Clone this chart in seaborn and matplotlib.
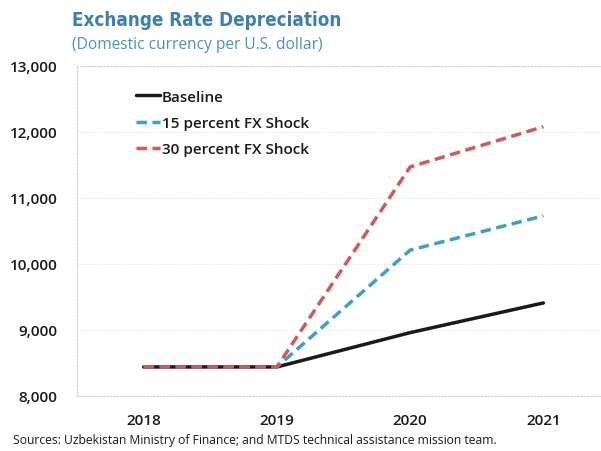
import matplotlib
matplotlib.use("Agg")
import matplotlib.pyplot as plt
import seaborn as sns
import pandas as pd

years = ["2018", "2019", "2020", "2021"]
baseline = [8440, 8440, 8960, 9410]
shock15 = [8440, 8440, 10210, 10730]
shock30 = [8440, 8440, 11470, 12080]
series_names = ["Baseline", "15 percent FX Shock", "30 percent FX Shock"]
yticks = [8000, 9000, 10000, 11000, 12000, 13000]

rows = []
for name, vals in zip(series_names, [baseline, shock15, shock30]):
    for i, (y, v) in enumerate(zip(years, vals)):
        rows.append({"idx": i, "year": y, "value": v, "series": name})
df = pd.DataFrame(rows)

sns.set_theme(style="white")
plt.rcParams['font.family'] = ['Open Sans', 'DejaVu Sans']

fig = plt.figure(figsize=(6.01, 4.52), dpi=100)
ax = fig.add_axes([77/601, 1-397/452, 533/601, 330/452])

palette = {"Baseline": "#1a1a1a", "15 percent FX Shock": "#3d9fcc", "30 percent FX Shock": "#d05a5a"}
dashes = {"Baseline": "", "15 percent FX Shock": (3, 1.6), "30 percent FX Shock": (3, 1.6)}
sns.lineplot(data=df, x="idx", y="value", hue="series", style="series",
             palette=palette, dashes=dashes, linewidth=2.5, ax=ax,
             hue_order=series_names, style_order=series_names)

ax.set_xlim(-0.5, 3.5)
ax.set_ylim(8000, 13000)
ax.set_xticks(range(len(years)))
ax.set_xticklabels(years)
ax.set_yticks(yticks)
ax.set_yticklabels([f"{t:,}" for t in yticks])
ax.tick_params(axis='both', length=0, labelsize=11, colors="#1a1a1a")
ax.tick_params(axis='x', pad=12)
ax.tick_params(axis='y', pad=14)
for lab in ax.get_xticklabels() + ax.get_yticklabels():
    lab.set_fontweight("semibold")
ax.set_xlabel("")
ax.set_ylabel("")
ax.grid(axis='y', color="#e4e4e4", linestyle=":", linewidth=0.8)
for s in ax.spines.values():
    s.set_color("#cfd3dc")
    s.set_linestyle(":")
    s.set_linewidth(0.9)

leg = ax.legend(loc="upper left", bbox_to_anchor=(0.085, 0.97), frameon=False,
                fontsize=11, handlelength=1.6, handletextpad=0.1, labelspacing=0.8)
for t in leg.get_texts():
    t.set_color("#1a1a1a")
    t.set_fontweight("semibold")

fig.text(72/601, 1-20/452, "Exchange Rate Depreciation", fontsize=13.5, fontweight="bold",
         fontstretch="condensed", color="#3f7fae", va="center", ha="left",
         family=["DejaVu Sans"])
fig.text(72/601, 1-45/452, "(Domestic currency per U.S. dollar)", fontsize=11.2,
         color="#4a90bf", va="center", ha="left")
fig.text(13/601, 1-441/452, "Sources: Uzbekistan Ministry of Finance; and MTDS technical assistance mission team.",
         fontsize=8.7, color="#1a1a1a", va="center", ha="left")

fig.savefig("out.png", dpi=100, facecolor="white")
